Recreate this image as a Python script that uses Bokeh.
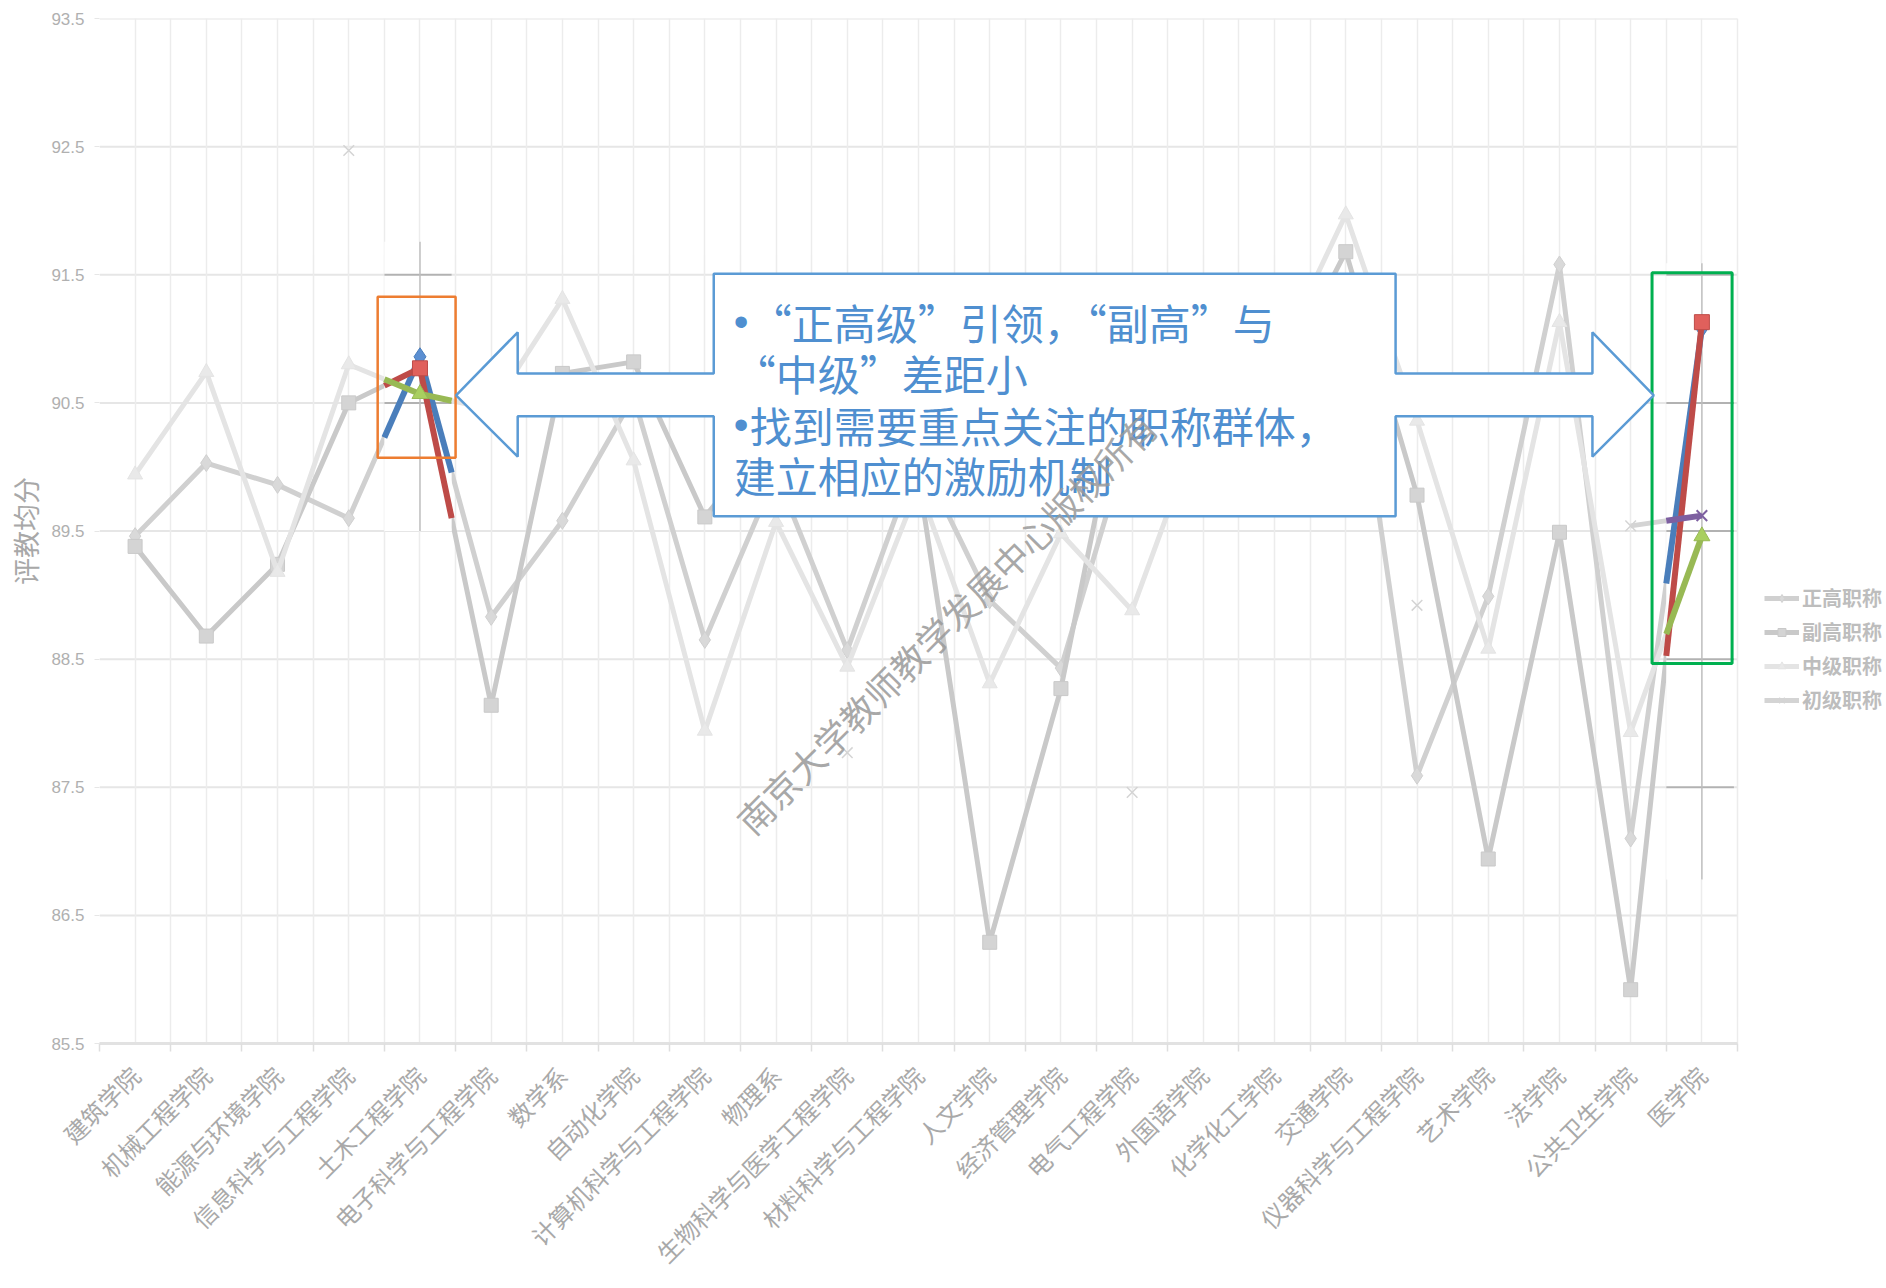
import math
import numpy as np
from bokeh.plotting import figure
from bokeh.models import Range1d, FixedTicker, Legend, LegendItem
from bokeh.embed import file_html
from bokeh.resources import INLINE
from bokeh.core.properties import value

# ---------------- data ----------------
categories = ["建筑学院", "机械工程学院", "能源与环境学院", "信息科学与工程学院", "土木工程学院",
              "电子科学与工程学院", "数学系", "自动化学院", "计算机科学与工程学院", "物理系",
              "生物科学与医学工程学院", "材料科学与工程学院", "人文学院", "经济管理学院", "电气工程学院",
              "外国语学院", "化学化工学院", "交通学院", "仪器科学与工程学院", "艺术学院",
              "法学院", "公共卫生学院", "医学院"]
zhenggao = [89.46, 90.03, 89.86, 89.60, 90.86, 88.83, 89.58, 90.55, 88.65, 89.95, 88.57, 90.10,
            88.96, 88.43, 90.30, 90.70, 90.90, 91.40, 87.59, 88.99, 91.58, 87.10, 91.08]
fugao = [89.38, 88.68, 89.24, 90.50, 90.77, 88.14, 90.73, 90.82, 89.61, 90.30, 90.10, 89.92,
         86.29, 88.27, 91.03, 90.90, 90.60, 91.68, 89.78, 86.94, 89.49, 85.92, 91.13]
zhongji = [89.94, 90.74, 89.18, 90.80, 90.57, 90.45, 91.31, 90.05, 87.94, 89.57, 88.44, 89.85,
           88.31, 89.48, 88.88, 90.40, 90.80, 91.97, 90.36, 88.58, 91.13, 87.93, 89.46]
chuji = [None, None, None, 92.47, None, None, None, None, None, None, 87.77, None,
         None, None, 87.46, None, None, None, 88.92, None, None, 89.54, 89.62]
series_names = ["正高职称", "副高职称", "中级职称", "初级职称"]
y_ticks = [85.5, 86.5, 87.5, 88.5, 89.5, 90.5, 91.5, 92.5, 93.5]
y_title = "评教均分"
highlight_categories = ["土木工程学院", "医学院"]
bullet = "•"
callout_lines = [(True, "“正高级”引领，“副高”与"), (False, "“中级”差距小"),
                 (True, "找到需要重点关注的职称群体，"), (False, "建立相应的激励机制")]
watermark = "南京大学教师教学发展中心版权所有"

# ---------------- layout (page pixels; page margin is 0) ----------------
W, H = 1884, 1286
FL, FT, FR, FB = 99, 18, 1737, 1043
CJK = "Noto Sans CJK SC"
n = len(categories)
x_end = n * (W - FL) / (FR - FL)      # frame runs to the right edge so the legend is cut like the original

xs = np.array([i + 0.5 for i in range(n)])
series = [np.array([np.nan if v is None else v for v in s], dtype=float)
          for s in (zhenggao, fugao, zhongji, chuji)]

gray_styles = [
    dict(marker="diamond", line="#d0d0d0", fill="#d9d9d9", size=17),
    dict(marker="square", line="#c9c9c9", fill="#d4d4d4", size=14),
    dict(marker="triangle", line="#e4e4e4", fill="#e9e9e9", size=15),
    dict(marker="x", line="#d4d4d4", fill="#d4d4d4", size=15),
]
color_line = ["#4a7ebb", "#be4b48", "#98b954", "#7d5fa0"]
color_fill = ["#5b8fd2", "#e0605c", "#a9cf5f", "#8a6bb0"]

p = figure(width=W, height=H, x_range=Range1d(0, x_end), y_range=Range1d(85.5, 93.5),
           output_backend="svg", toolbar_location=None,
           min_border_left=FL, min_border_right=0, min_border_top=FT, min_border_bottom=H - FB)
p.outline_line_color = None
p.background_fill_color = "white"
p.border_fill_color = "white"

# x axis: labels at centres, small tick marks at category boundaries
p.xaxis.ticker = FixedTicker(ticks=[i + 0.5 for i in range(n)], minor_ticks=list(range(n + 1)))
p.xaxis.bounds = (0, n)
p.xaxis.major_label_overrides = {i + 0.5: c for i, c in enumerate(categories)}
p.xaxis.major_label_orientation = math.pi / 4
p.xaxis.major_label_standoff = 19
p.xaxis.major_label_text_font = CJK
p.xaxis.major_label_text_font_size = "24px"
p.xaxis.major_label_text_color = "#a9a9a9"
p.xaxis.major_tick_in = 0
p.xaxis.major_tick_out = 0
p.xaxis.minor_tick_in = 0
p.xaxis.minor_tick_out = 8
p.xaxis.minor_tick_line_color = "#dedede"
p.xaxis.minor_tick_line_width = 1.5
p.xaxis.axis_line_color = "#e2e2e2"
p.xaxis.axis_line_width = 3

p.yaxis.ticker = FixedTicker(ticks=y_ticks)
p.yaxis.axis_line_color = None
p.yaxis.major_tick_in = 0
p.yaxis.major_tick_out = 5
p.yaxis.major_tick_line_color = "#e6e6e6"
p.yaxis.minor_tick_line_color = None
p.yaxis.major_label_standoff = 10
p.yaxis.major_label_text_font = "Liberation Sans"
p.yaxis.major_label_text_font_size = "17px"
p.yaxis.major_label_text_color = "#b0b0b0"
p.yaxis.axis_label = y_title
p.yaxis.axis_label_text_font = CJK
p.yaxis.axis_label_text_font_style = "normal"
p.yaxis.axis_label_text_font_size = "27px"
p.yaxis.axis_label_text_color = "#a8a8a8"
p.yaxis.axis_label_standoff = 3

p.xgrid.grid_line_color = "#ececec"
p.xgrid.grid_line_width = 1.5
p.xgrid.minor_grid_line_color = "#ececec"
p.xgrid.minor_grid_line_width = 1.5
p.ygrid.grid_line_color = None
p.segment(x0=[0] * len(y_ticks), x1=[n] * len(y_ticks), y0=y_ticks, y1=y_ticks,
          line_color="#e6e6e6", line_width=2, level="underlay")

# ---------------- gray series ----------------
legend_items = []
for name, vals, st in zip(series_names, series, gray_styles):
    lr = p.line(xs, vals, line_color=st["line"], line_width=5, line_join="round")
    if st["marker"] == "x":
        sr = p.scatter(xs, vals, marker="x", size=st["size"], line_color=st["line"], line_width=1.5)
    else:
        sr = p.scatter(xs, vals, marker=st["marker"], size=st["size"], fill_color=st["fill"],
                       line_color=st["line"], line_width=1)
    legend_items.append(LegendItem(label=name, renderers=[lr, sr]))


# ---------------- coloured highlight overlays ----------------
def clip(x0, y0, x1, y1, xmin, xmax, ymin, ymax):
    dx, dy = x1 - x0, y1 - y0
    t0, t1 = 0.0, 1.0
    for pp, qq in ((-dx, x0 - xmin), (dx, xmax - x0), (-dy, y0 - ymin), (dy, ymax - y0)):
        if pp == 0:
            if qq < 0:
                return None
        else:
            t = qq / pp
            if pp < 0:
                if t > t1:
                    return None
                t0 = max(t0, t)
            else:
                if t < t0:
                    return None
                t1 = min(t1, t)
    return x0 + t0 * dx, y0 + t0 * dy, x0 + t1 * dx, y0 + t1 * dy


overlay_box = {"土木工程学院": (0.945, 89.5, 91.757), "医学院": (0.95, 86.78, 91.59)}
for cat in highlight_categories:
    i = categories.index(cat)
    wr, yb, yt = overlay_box[cat]
    xl, xr = float(i), i + wr
    p.quad(left=[xl], right=[xr], bottom=[yb], top=[yt], fill_color="white", line_color=None)
    hy = [t for t in y_ticks if yb < t < yt]
    p.segment(x0=[xl] * len(hy), x1=[xr] * len(hy), y0=hy, y1=hy, line_color="#b2b2b2", line_width=2)
    p.segment(x0=[i + 0.5], x1=[i + 0.5], y0=[yb], y1=[yt], line_color="#bdbdbd", line_width=1.5)
    for k, vals in enumerate(series):
        segs = []
        for j in (i - 1, i):
            if 0 <= j < n - 1 and not (np.isnan(vals[j]) or np.isnan(vals[j + 1])):
                c = clip(xs[j], vals[j], xs[j + 1], vals[j + 1], xl, xr, yb, yt)
                if c:
                    segs.append(c)
        if segs:
            p.segment(x0=[s[0] for s in segs], y0=[s[1] for s in segs],
                      x1=[s[2] for s in segs], y1=[s[3] for s in segs],
                      line_color=color_line[k], line_width=6)
        v = vals[i]
        if not np.isnan(v):
            st = gray_styles[k]
            if st["marker"] == "x":
                p.scatter([xs[i]], [v], marker="x", size=st["size"], line_color=color_line[k], line_width=2)
            else:
                p.scatter([xs[i]], [v], marker=st["marker"], size=st["size"] + 1,
                          fill_color=color_fill[k], line_color=color_line[k], line_width=1)

# highlight frames
i_a = categories.index(highlight_categories[0])
i_b = categories.index(highlight_categories[1])
p.quad(left=[i_a - 0.094], right=[i_a + 1.0], bottom=[90.072], top=[91.328],
       fill_alpha=0, line_color="#ed7d31", line_width=2.5)
p.quad(left=[i_b - 0.2], right=[i_b + 0.924], bottom=[88.465], top=[91.515],
       fill_alpha=0, line_color="#00b050", line_width=3)

# ---------------- callout (left-right arrow) ----------------
tl, hb, rl, rr, hr, tr = 5.007, 5.872, 8.625, 18.199, 20.963, 21.824
ym, st_, sb, ht, hbm, bt, bb = 90.559, 90.729, 90.395, 91.051, 90.08, 91.508, 89.615
cx = [tl, hb, hb, rl, rl, rr, rr, hr, hr, tr, hr, hr, rr, rr, rl, rl, hb, hb]
cy = [ym, ht, st_, st_, bt, bt, st_, st_, ht, ym, hbm, sb, sb, bb, bb, sb, sb, hbm]
p.patch(cx, cy, fill_color="white", line_color="#5b9bd5", line_width=2.5)

text_x = 8.906          # left edge of the text block
bullet_gap = 0.225      # width of the bullet (category units)
text_y = [91.133, 90.735, 90.329, 89.939]
text_color = "#4f8fd0"
bx = [text_x for (b, _), y in zip(callout_lines, text_y) if b]
by = [y for (b, _), y in zip(callout_lines, text_y) if b]
p.text(x=bx, y=by, text=[bullet] * len(bx), text_font=value("Liberation Sans"),
       text_font_size="42px", text_color=text_color, text_align="left", text_baseline="middle")
p.text(x=[text_x + (bullet_gap if b else 0) for b, _ in callout_lines], y=text_y,
       text=[t for _, t in callout_lines],
       text_font=value(CJK), text_font_size="42px", text_color=text_color,
       text_align="left", text_baseline="middle")

# watermark
p.text(x=[11.885], y=[88.785], text=[watermark], angle=math.pi / 4,
       text_font=value(CJK), text_font_size="36px", text_color="#999999", text_alpha=0.85,
       text_align="center", text_baseline="middle")

# ---------------- legend (cut at right edge like reference) ----------------
legend = Legend(items=legend_items, location=(1764 - FL, 329), orientation="vertical",
                border_line_color=None, background_fill_alpha=0, padding=0, margin=0,
                spacing=5, glyph_width=35, glyph_height=20, label_height=20, label_standoff=3,
                label_text_font_size="20px", label_text_color="#bdbdbd",
                label_text_font=CJK, label_text_font_style="bold")
p.add_layout(legend, "center")

open("out.html", "w").write(file_html(p, INLINE))
